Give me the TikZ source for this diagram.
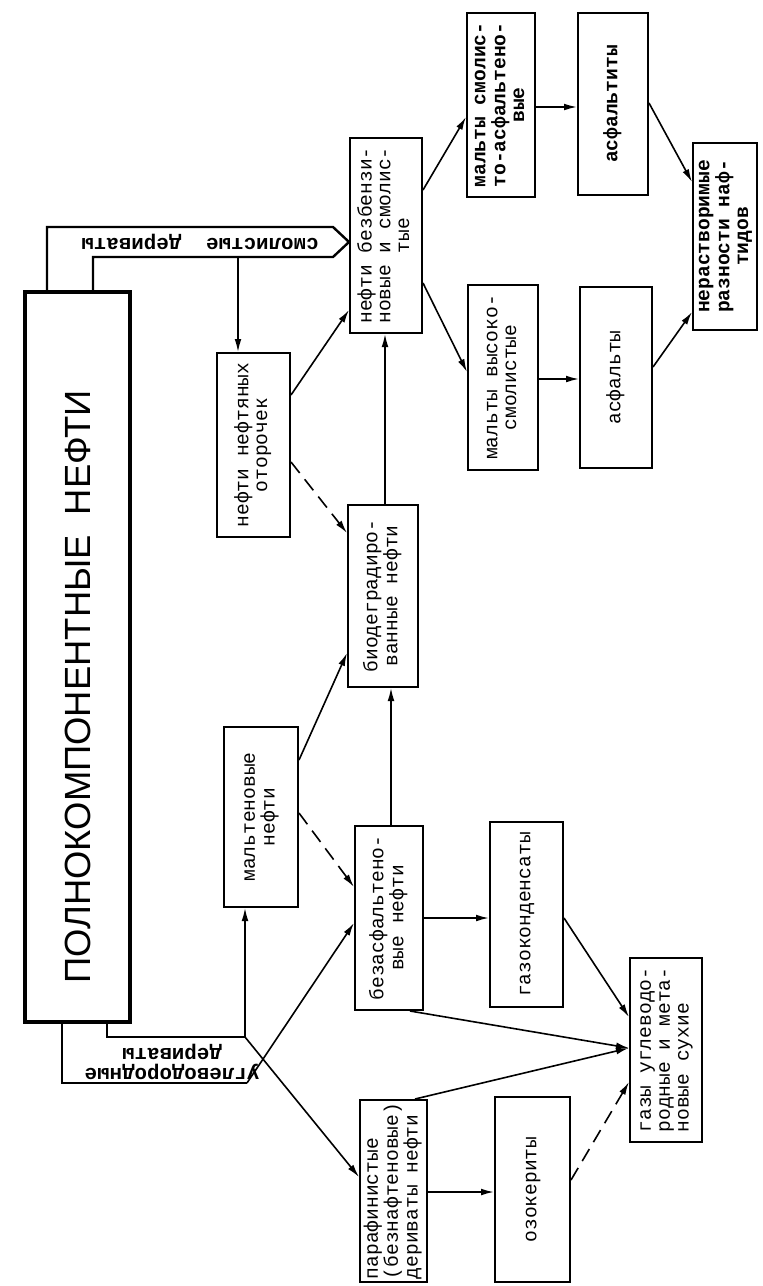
\documentclass[tikz,border=0pt]{standalone}
\usepackage{fontspec}
\setmainfont{Liberation Sans}
\setmonofont{Liberation Mono}
\usetikzlibrary{arrows.meta}
\newcommand\rtxt[2]{\rotatebox{90}{\begin{tabular}{@{}#1@{}}#2\end{tabular}}}
% \bx{style}{name}{x1}{y1}{x2}{y2}{text}
\newcommand\bx[7]{\node[#1,minimum width={(#5-#3)*0.5pt},minimum height={(#6-#4)*0.5pt}] (#2) at ({(#3+#5)/2},{(#4+#6)/2}) {#7};}
\begin{document}
\begin{tikzpicture}[x=0.5pt,y=-0.5pt,
  box/.style={draw,line width=1pt,inner sep=0pt,font=\ttfamily\fontsize{9.8}{9.4}\selectfont},
  bbox/.style={box,font=\ttfamily\bfseries\fontsize{9.8}{9.4}\selectfont},
  mainbox/.style={draw,line width=1.6pt,inner sep=0pt,font=\fontsize{18.2}{18.2}\selectfont},
  shapearrow/.style={line width=1.2pt,line join=miter},
  conn/.style={line width=0.8pt,-{Latex[length=6.5pt,width=3.4pt]}},
  dconn/.style={conn,dash pattern=on 7pt off 4pt},
  lbl/.style={inner sep=0pt,rotate=180,align=center,font=\ttfamily\bfseries\fontsize{10.4}{9.6}\selectfont}]
\useasboundingbox (0,0) rectangle (762,1286);
\fill[white] (0,0) rectangle (762,1286);

% main box
\bx{mainbox}{main}{25}{292}{130}{1022}{\rotatebox{90}{ПОЛНОКОМПОНЕНТНЫЕ\ \ НЕФТИ\hspace*{30pt}}}

% boxes
\bx{box}{bez}{350}{138}{422}{333}{\rtxt{c}{нефти безбензи-\\новые и смолис-\\тые}}
\bx{box}{oto}{217}{353}{290}{537}{\rtxt{c}{нефти нефтяных\\оторочек}}
\bx{bbox}{mal1}{467}{13}{535}{197}{\rtxt{c}{мальты смолис-\\то-асфальтено-\\вые}}
\bx{bbox}{asft}{578}{13}{648}{195}{\rtxt{c}{асфальтиты}}
\bx{box}{mal2}{468}{285}{538}{470}{\rtxt{c}{мальты высоко-\\смолистые}}
\bx{box}{asf}{580}{287}{652}{468}{\rtxt{c}{асфальты}}
\bx{bbox}{ner}{693}{143}{757}{330}{\rtxt{c}{нерастворимые\\разности наф-\\тидов}}
\bx{box}{bio}{348}{505}{418}{687}{\rtxt{c}{биодеградиро-\\ванные нефти}}
\bx{box}{malt}{224}{727}{298}{907}{\rtxt{c}{мальтеновые\\нефти}}
\bx{box}{bza}{355}{826}{423}{1010}{\rtxt{c}{безасфальтено-\\вые нефти}}
\bx{box}{gk}{490}{822}{563}{1007}{\rtxt{c}{газоконденсаты}}
\bx{box}{gaz}{630}{958}{702}{1142}{\rtxt{l}{газы углеводо-\\родные и мета-\\новые сухие}}
\bx{box}{par}{360}{1100}{427}{1282}{\rtxt{l}{парафинистые\\(безнафтеновые)\\дериваты нефти}}
\bx{box}{ozo}{495}{1097}{570}{1282}{\rtxt{c}{озокериты}}

% top shape arrow: смолистые дериваты
\coordinate (sd) at (238,257);
\draw[shapearrow] (main.north -| 47,0) -- (47,227) -- (333,227) -- (bez.west |- 0,242)
  -- (333,257) -- (93,257) -- (main.north -| 93,0);
\node[lbl] (sdl) at (200,242) {смолистые\ \ дериваты};
\draw[conn] (sd) -- (sd |- oto.north);

% bottom shape arrow: углеводородные дериваты
\coordinate (ua) at (245,1037);
\coordinate (ub) at (247,1083);
\draw[shapearrow] (main.south -| 62,0) -- (62,1083) -- (ub);
\draw[shapearrow] (main.south -| 107,0) -- (107,1037) -- (ua);
\node[lbl] (udl) at (172,1062) {углеводородные\\дериваты};
\draw[conn] (ua) -- (malt.south -| ua);
\draw[conn] (ua) -- (par.west |- 0,1177);
\draw[conn] (ub) -- (bza.west |- 0,923);

% connectors
\draw[conn] (oto.east |- 0,395) -- (bez.west |- 0,310);
\draw[dconn] (oto.east |- 0,462) -- (bio.west |- 0,533);
\draw[conn] (malt.east |- 0,760) -- (bio.west |- 0,653);
\draw[dconn] (malt.east |- 0,813) -- (bza.west |- 0,887);
\draw[conn] (bio.north -| 385,0) -- (bez.south -| 385,0);
\draw[conn] (bza.north -| 391,0) -- (bio.south -| 391,0);
\draw[conn] (bez.east |- 0,190) -- (mal1.west |- 0,117);
\draw[conn] (bez.east |- 0,283) -- (mal2.west |- 0,372);
\draw[conn] (mal1.east |- 0,107) -- (asft.west |- 0,107);
\draw[conn] (mal2.east |- 0,379) -- (asf.west |- 0,379);
\draw[conn] (asft.east |- 0,103) -- (ner.west |- 0,182);
\draw[conn] (asf.east |- 0,367) -- (ner.west |- 0,312);
\draw[conn] (bza.east |- 0,918) -- (gk.west |- 0,918);
\draw[conn] (gk.east |- 0,918) -- (gaz.west |- 0,1017);
\draw[conn] (bza.south -| 410,0) -- (gaz.west |- 0,1048);
\draw[conn] (par.north -| 415,0) -- (gaz.west |- 0,1048);
\draw[conn] (par.east |- 0,1192) -- (ozo.west |- 0,1192);
\draw[dconn] (ozo.east |- 0,1180) -- (gaz.west |- 0,1082);
\end{tikzpicture}
\end{document}
